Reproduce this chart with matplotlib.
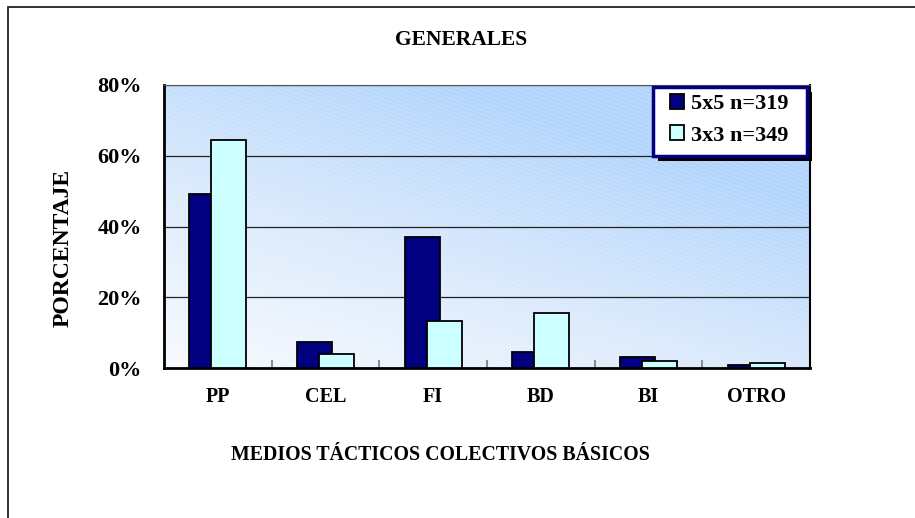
import numpy as np
import matplotlib
matplotlib.use("Agg")
import matplotlib.pyplot as plt
from matplotlib.colors import LinearSegmentedColormap
from matplotlib.patches import Rectangle
from matplotlib.collections import LineCollection

categories = ['PP', 'CEL', 'FI', 'BD', 'BI', 'OTRO']
s5x5 = [49.2, 7.3, 37.0, 4.6, 3.0, 0.8]
s3x3 = [64.5, 4.0, 13.4, 15.6, 1.9, 1.4]
labels = ['5x5 n=319', '3x3 n=349']
yticks = [0, 20, 40, 60, 80]

plt.rcParams['font.family'] = ['Liberation Serif', 'DejaVu Serif']
plt.rcParams['font.weight'] = 'bold'

W, H = 915, 518
fig = plt.figure(figsize=(W / 100, H / 100), dpi=100)
ax = fig.add_axes([164 / W, 1 - 368 / H, 646 / W, 283 / H])

# background gradient (white lower-left -> light blue upper-right)
gx, gy = np.meshgrid(np.linspace(0, 1, 300), np.linspace(0, 1, 200))
grad = np.clip(0.55 * gx + 0.75 * gy, 0, 1)
cmap = LinearSegmentedColormap.from_list('bg', ['#f8fbff', '#dbeafc', '#b2d5fd'])
ax.imshow(grad, cmap=cmap, origin='lower', extent=[0, 1, 0, 1],
          transform=ax.transAxes, aspect='auto', zorder=0)

# faint diagonal streaks
segs = []
for c in np.arange(-1.0, 1.6, 0.018):
    segs.append([(c, 1.0), (c + 1.2, 0.0)])
lc = LineCollection(segs, colors='white', linewidths=0.5, alpha=0.25,
                    transform=ax.transAxes, zorder=0.5)
ax.add_collection(lc)

x = np.arange(len(categories))
w = 0.325
off = 0.102
ax.bar(x - off, s5x5, w, color='#000080', edgecolor='black', linewidth=1.3,
       label=labels[0], zorder=3)
ax.bar(x + off, s3x3, w, color='#ccffff', edgecolor='black', linewidth=1.3,
       label=labels[1], zorder=4)

ax.set_xlim(-0.5, len(categories) - 0.5)
ax.set_ylim(0, 80)
ax.set_yticks(yticks)
ax.set_yticklabels([f'{v}%' for v in yticks], fontsize=16, fontweight='bold')
ax.yaxis.grid(True, color='#222222', linewidth=0.9, zorder=1)
ax.set_axisbelow(True)
ax.tick_params(axis='y', length=0, pad=16)

ax.set_xticks(x)
ax.set_xticklabels(categories, fontsize=14.5, fontweight='bold')
ax.tick_params(axis='x', length=0, pad=14)
ax.set_xticks(np.arange(0.5, len(categories) - 1, 1), minor=True)
ax.tick_params(axis='x', which='minor', direction='in', length=6,
               width=1.2, color='#777777')

for side in ['left', 'bottom']:
    ax.spines[side].set_linewidth(2)
    ax.spines[side].set_color('black')
ax.spines['top'].set_color('#555555')
ax.spines['right'].set_color('black')
ax.spines['right'].set_linewidth(1.5)

fig.text(461 / W, 1 - 40 / H, 'GENERALES', ha='center', va='center',
         fontsize=15.5, fontweight='bold')
fig.text(440 / W, 1 - 455 / H, 'MEDIOS TÁCTICOS COLECTIVOS BÁSICOS',
         ha='center', va='center', fontsize=14.3, fontweight='bold')
fig.text(63 / W, 1 - 248 / H, 'PORCENTAJE', ha='center', va='center',
         rotation=90, fontsize=17, fontweight='bold')

# legend box drawn by hand: shadow + navy frame
bx0, bx1, by0, by1 = 653, 807, 87, 156
fig.add_artist(Rectangle(((bx0 + 5) / W, 1 - (by1 + 5) / H), (bx1 - bx0) / W,
                         (by1 - by0) / H, transform=fig.transFigure,
                         facecolor='black', edgecolor='none', zorder=9))
fig.add_artist(Rectangle((bx0 / W, 1 - by1 / H), (bx1 - bx0) / W,
                         (by1 - by0) / H, transform=fig.transFigure,
                         facecolor='white', edgecolor='#000080',
                         linewidth=2.5, zorder=9.5))
leg = ax.legend(loc='upper left', bbox_to_anchor=(670 / W, 1 - 94 / H),
                bbox_transform=fig.transFigure, borderaxespad=0,
                prop={'weight': 'bold', 'size': 16}, frameon=False,
                handlelength=0.65, handleheight=0.65, handletextpad=0.3,
                labelspacing=0.5, borderpad=0)
leg.set_zorder(10)
fig.add_artist(leg)

# outer chart border (only left and top visible)
fig.add_artist(Rectangle((8 / W, -0.1), 1.2, 1.1 - 7 / H,
                         transform=fig.transFigure, fill=False,
                         edgecolor='#222222', linewidth=1.3))

fig.savefig('out.png', dpi=100)
